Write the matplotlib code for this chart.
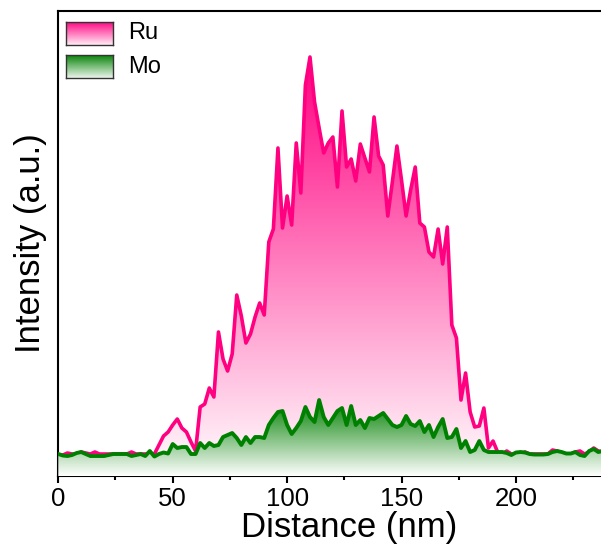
import numpy as np
import matplotlib
matplotlib.use("Agg")
import matplotlib.pyplot as plt
from matplotlib.colors import LinearSegmentedColormap
from matplotlib.ticker import MultipleLocator

plt.rcParams["font.family"] = ["Liberation Sans", "DejaVu Sans"]

# line-scan intensity profiles (a.u.), one point every 2 nm
ru = np.array([
    21, 21, 23, 22, 22, 24, 23, 22, 24, 22,
    22, 22, 22, 22, 22, 22, 24, 22, 22, 22,
    22, 22, 31, 40, 44, 51, 57, 48, 44, 34,
    25, 69, 72, 88, 79, 144, 117, 105, 122, 181,
    160, 133, 142, 159, 173, 161, 234, 247, 328, 248,
    280, 251, 333, 283, 391, 419, 374, 348, 323, 333,
    339, 289, 365, 309, 317, 295, 332, 318, 304, 359,
    320, 311, 260, 294, 330, 296, 260, 286, 309, 253,
    249, 224, 219, 247, 212, 249, 151, 138, 76, 103,
    64, 49, 50, 68, 28, 35, 24, 22, 25, 22,
    22, 22, 24, 22, 22, 22, 22, 22, 26, 25,
    23, 22, 22, 24, 25, 22, 24, 28, 25, 24,
], dtype=float)

mo = np.array([
    22, 20.5, 20, 21, 23, 24, 22, 20, 20, 20,
    20, 21, 22, 22, 22, 22, 20, 21, 22, 20,
    25, 19.5, 22, 23.5, 22.5, 32, 28, 29, 29, 22,
    22, 33, 28, 33, 30, 31, 39, 41, 43, 38,
    31, 39, 33, 39, 39, 38, 51, 58, 64, 65,
    51, 42, 48, 55, 69, 59, 54, 76, 59, 51,
    58, 65, 68, 51, 70, 51, 56, 48, 58, 57,
    60, 63, 57, 51, 49, 51, 60, 52, 50, 55,
    44, 51, 39, 49, 57, 38, 39, 47, 28, 35,
    24, 26, 35, 26, 24, 24, 24, 24, 23, 21,
    23.5, 24, 23.5, 22, 21.5, 21.5, 21.5, 22, 24, 25,
    24, 22.5, 22.5, 24, 21, 20, 25, 27, 24, 25,
], dtype=float)

distance = np.arange(len(ru)) * 2.0  # nm

RU_COLOR = "#FF0080"
MO_COLOR = "#008000"

GRAD = np.linspace(0, 1, 256).reshape(-1, 1)


def gradient_fill(ax, x, y, color, z, lw):
    cmap = LinearSegmentedColormap.from_list("g", ["white", color])
    poly = ax.fill_between(x, y, 0, facecolor="none", edgecolor="none", zorder=z)
    im = ax.imshow(GRAD, extent=[x.min(), x.max(), 0, y.max()], origin="lower",
                   aspect="auto", cmap=cmap, vmin=0, vmax=1, zorder=z)
    im.set_clip_path(poly.get_paths()[0], transform=ax.transData)
    ax.plot(x, y, color=color, lw=lw, zorder=z + 0.5)


def legend_patch(fig, rect, color):
    cmap = LinearSegmentedColormap.from_list("g", ["white", color])
    lax = fig.add_axes(rect)
    lax.imshow(GRAD, origin="lower", aspect="auto", cmap=cmap, vmin=-0.08, vmax=1)
    lax.set_xticks([]); lax.set_yticks([])
    for s in lax.spines.values():
        s.set_edgecolor("#333333")
        s.set_linewidth(1.0)


fig = plt.figure(figsize=(6.01, 5.57), dpi=100)
ax = fig.add_axes([0.097, 0.1454, 0.9137, 0.8354])

gradient_fill(ax, distance, ru, RU_COLOR, 1, 2.6)
gradient_fill(ax, distance, mo, MO_COLOR, 3, 2.8)

ax.set_xlim(0, 240)
ax.set_ylim(0, 465.3)
ax.set_yticks([])
ax.xaxis.set_major_locator(MultipleLocator(50))
ax.xaxis.set_minor_locator(MultipleLocator(25))
ax.tick_params(axis="x", which="major", direction="out", length=5, width=1.5,
               pad=3, labelsize=18.5)
ax.tick_params(axis="x", which="minor", direction="out", length=2.8, width=1.5)
for side in ("left", "bottom", "top"):
    ax.spines[side].set_linewidth(1.5)
ax.spines["right"].set_visible(False)

ax.set_xlabel("Distance (nm)", fontsize=25)
ax.set_ylabel("Intensity (a.u.)", fontsize=25)
ax.xaxis.set_label_coords(0.529, -0.075)
ax.yaxis.set_label_coords(-0.02, 0.5)

# legend with gradient swatches
legend_patch(fig, [0.1098, 0.9192, 0.0782, 0.0413], RU_COLOR)
legend_patch(fig, [0.1098, 0.8600, 0.0782, 0.0413], MO_COLOR)
fig.text(0.2135, 0.9399, "Ru", fontsize=17, ha="left", va="center")
fig.text(0.2135, 0.8806, "Mo", fontsize=17, ha="left", va="center")

fig.savefig("out.png", dpi=100, facecolor="white")
